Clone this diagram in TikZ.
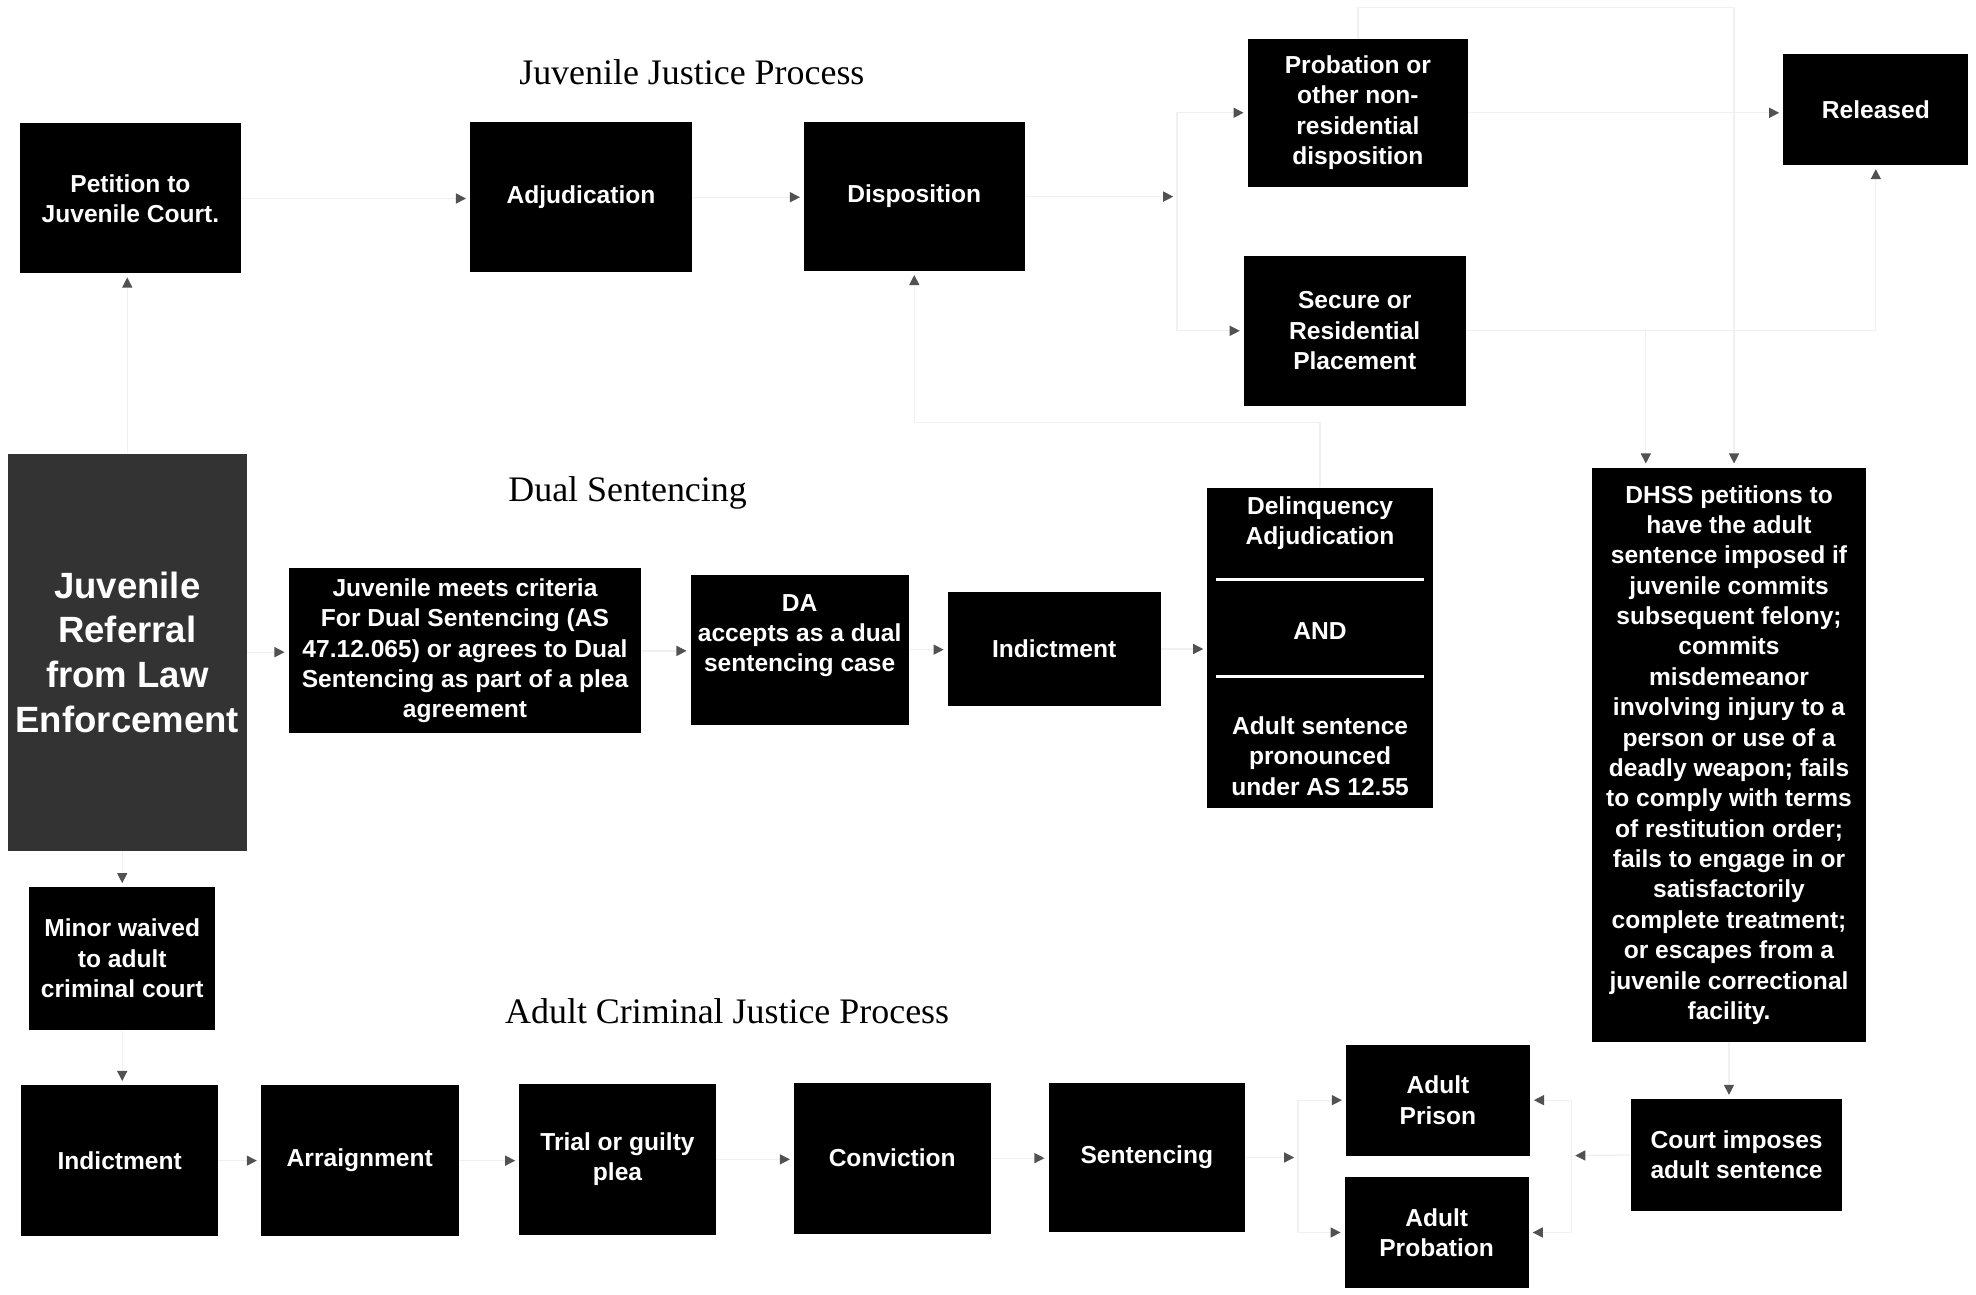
\documentclass[tikz,border=0pt]{standalone}
\usepackage{fontspec}
\setmainfont{Liberation Serif}
\newfontfamily\sansf{Liberation Sans}
\usetikzlibrary{arrows.meta}
\begin{document}
\begin{tikzpicture}[x=1pt,y=-1pt,
  box/.style={fill=black, text=white, inner sep=0pt, align=center,
    font=\sansf\bfseries\fontsize{19.5}{24.1}\selectfont},
  boxtext/.style={text=white, inner sep=0pt, align=center,
    font=\sansf\bfseries\fontsize{19.5}{24.1}\selectfont},
  conn/.style={draw=black!6, line width=1pt, shorten >=3pt,
    -{Triangle[length=8pt,width=8pt,color=black!68]}},
  title/.style={font=\fontsize{28.5}{34}\selectfont, anchor=base, inner sep=0pt}]
\path[use as bounding box, fill=white] (0,0) rectangle (1568,1027);

% titles
\node[title] (t1) at (549,67) {Juvenile Justice Process};
\node[title] (t2) at (498,398) {Dual Sentencing};
\node[title] (t3) at (577,812) {Adult Criminal Justice Process};

% juvenile row
\node[box, minimum width=175, minimum height=119] (petition) at (103.5,157.5) {Petition to\\Juvenile Court.};
\node[box, minimum width=176, minimum height=119] (adjud) at (461,156.5) {Adjudication};
\node[box, minimum width=175, minimum height=118] (dispo) at (725.5,156) {Disposition};
\node[box, minimum width=175, minimum height=117] (probation) at (1077.5,89.5) {Probation or\\other non-\\residential\\disposition};
\node[box, minimum width=176, minimum height=119] (secure) at (1075,262.5) {Secure or\\Residential\\Placement};
\node[box, minimum width=147, minimum height=88] (released) at (1488.5,87) {Released};

% referral
\node[box, fill=black!80, minimum width=190, minimum height=315,
  font=\sansf\bfseries\fontsize{29}{35.5}\selectfont] (ref) at (101,517.5)
  {Juvenile\\Referral\\from Law\\Enforcement};

% dual sentencing row
\node[box, minimum width=280, minimum height=131] (meets) at (369,516.5)
  {Juvenile meets criteria\\For Dual Sentencing (AS\\47.12.065) or agrees to Dual\\Sentencing as part of a plea\\agreement};
\node[box, minimum width=173, minimum height=119] (da) at (634.5,515.5) {};
\node[boxtext] (datext) at (634.5,504.5) {DA\\accepts as a dual\\sentencing case};
\node[box, minimum width=169, minimum height=90] (indictM) at (836.5,515) {Indictment};
\node[box, minimum width=179, minimum height=254] (delinq) at (1047.5,514) {};
\node[boxtext] (dq1) at (1047.5,415) {Delinquency\\Adjudication};
\node[boxtext] (dq2) at (1047.5,501) {AND};
\node[boxtext] (dq3) at (1047.5,600) {Adult sentence\\pronounced\\under AS 12.55};
\draw[white, line width=2pt] (965,460) -- (1130,460);
\draw[white, line width=2pt] (965,537) -- (1130,537);

\node[box, minimum width=218, minimum height=456] (dhss) at (1372,599)
  {DHSS petitions to\\have the adult\\sentence imposed if\\juvenile commits\\subsequent felony;\\commits\\misdemeanor\\involving injury to a\\person or use of a\\deadly weapon; fails\\to comply with terms\\of restitution order;\\fails to engage in or\\satisfactorily\\complete treatment;\\or escapes from a\\juvenile correctional\\facility.};

% adult row
\node[box, minimum width=148, minimum height=113] (minor) at (97,760.5) {Minor waived\\to adult\\criminal court};
\node[box, minimum width=156, minimum height=120] (indictB) at (95,921) {Indictment};
\node[box, minimum width=157, minimum height=120] (arraign) at (285.5,921) {Arraignment};
\node[box, minimum width=156, minimum height=120] (trial) at (490,920) {Trial or guilty\\plea};
\node[box, minimum width=156, minimum height=120] (conv) at (708,919) {Conviction};
\node[box, minimum width=156, minimum height=119] (sent) at (910,918.5) {Sentencing};
\node[box, minimum width=146, minimum height=88] (prison) at (1141,873) {Adult\\Prison};
\node[box, minimum width=146, minimum height=88] (probA) at (1140,978) {Adult\\Probation};
\node[box, minimum width=168, minimum height=89] (court) at (1378,916.5) {Court imposes\\adult sentence};

% branch points
\coordinate (br1) at (934,156);
\coordinate (dq) at (725.5,335);
\coordinate (tp) at (1376,6);
\coordinate (s1) at (1306,262.5);
\coordinate (s2) at (1488.5,262.5);
\coordinate (br2) at (1030,918.5);
\coordinate (br3) at (1247,917);

% connectors: juvenile process
\draw[conn] (ref.north) -- (ref.north |- petition.south);
\draw[conn] (petition.east) -- (petition.east -| adjud.west);
\draw[conn] (adjud.east) -- (adjud.east -| dispo.west);
\draw[conn] (dispo.east) -- (br1);
\draw[conn] (br1) |- (probation.west);
\draw[conn] (br1) |- (secure.west);
\draw[conn] (delinq.north) |- (dq) -- (dispo.south);
\draw[conn] (probation.east) -- (probation.east -| released.west);
\draw[conn] (probation.north) |- (tp) -- (tp |- dhss.north);
\draw[conn] (secure.east) -- (s2) -- (released.south);
\draw[conn] (s1) -- (s1 |- dhss.north);

% connectors: dual sentencing
\draw[conn] (ref.east) -- (ref.east -| meets.west);
\draw[conn] (meets.east) -- (meets.east -| da.west);
\draw[conn] (da.east) -- (da.east -| indictM.west);
\draw[conn] (indictM.east) -- (indictM.east -| delinq.west);

% connectors: adult process
\draw[conn] (minor.north |- ref.south) -- (minor.north);
\draw[conn] (minor.south) -- (minor.south |- indictB.north);
\draw[conn] (indictB.east) -- (indictB.east -| arraign.west);
\draw[conn] (arraign.east) -- (arraign.east -| trial.west);
\draw[conn] (trial.east) -- (trial.east -| conv.west);
\draw[conn] (conv.east) -- (conv.east -| sent.west);
\draw[conn] (sent.east) -- (br2);
\draw[conn] (br2) |- (prison.west);
\draw[conn] (br2) |- (probA.west);
\draw[conn] (dhss.south) -- (dhss.south |- court.north);
\draw[conn] (court.west) -- (br3);
\draw[conn] (br3) |- (prison.east);
\draw[conn] (br3) |- (probA.east);
\end{tikzpicture}
\end{document}
